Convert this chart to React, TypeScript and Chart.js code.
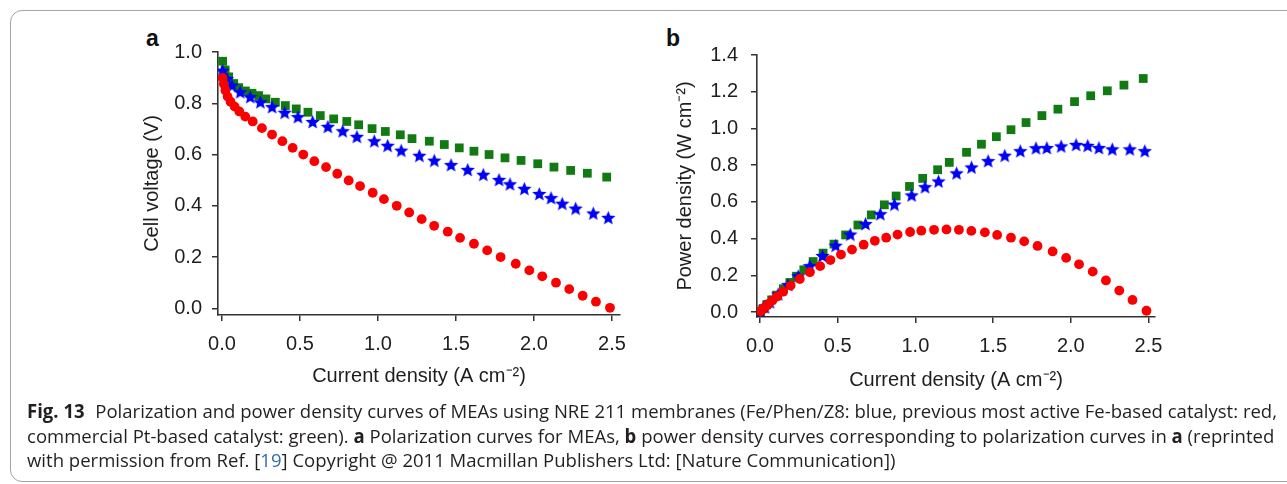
import React, { useEffect, useLayoutEffect, useRef } from "react";
import { Chart, registerables } from "chart.js";

Chart.register(...registerables);

// ---------- data ----------
const xTickValues = [0, 0.5, 1.0, 1.5, 2.0, 2.5];
const yTickValuesA = [0, 0.2, 0.4, 0.6, 0.8, 1.0];
const yTickValuesB = [0, 0.2, 0.4, 0.6, 0.8, 1.0, 1.2, 1.4];

// previous most active Fe-based catalyst (red)
const redCurrent = [0.004, 0.012, 0.022, 0.036, 0.055, 0.081, 0.111, 0.149, 0.197, 0.256, 0.321, 0.387, 0.453, 0.521, 0.592, 0.667, 0.739, 0.812, 0.885, 0.966, 1.038, 1.12, 1.2, 1.28, 1.36, 1.447, 1.526, 1.615, 1.7, 1.786, 1.883, 1.97, 2.053, 2.141, 2.226, 2.312, 2.397, 2.487];
const redVoltage = [0.899, 0.875, 0.85, 0.826, 0.806, 0.787, 0.768, 0.748, 0.729, 0.703, 0.678, 0.652, 0.626, 0.6, 0.574, 0.551, 0.525, 0.499, 0.477, 0.451, 0.426, 0.4, 0.374, 0.348, 0.322, 0.299, 0.275, 0.252, 0.226, 0.2, 0.174, 0.148, 0.125, 0.1, 0.075, 0.049, 0.026, 0.002];
const redPower = [0.004, 0.01, 0.019, 0.03, 0.044, 0.064, 0.085, 0.111, 0.144, 0.18, 0.217, 0.25, 0.283, 0.313, 0.34, 0.367, 0.388, 0.405, 0.422, 0.436, 0.443, 0.448, 0.45, 0.448, 0.442, 0.434, 0.42, 0.405, 0.385, 0.36, 0.33, 0.295, 0.26, 0.22, 0.172, 0.117, 0.066, 0.007];

// Fe/Phen/Z8 (blue)
const blueCurrent = [0.004, 0.032, 0.064, 0.117, 0.181, 0.246, 0.321, 0.402, 0.487, 0.581, 0.679, 0.774, 0.865, 0.976, 1.062, 1.149, 1.265, 1.361, 1.468, 1.575, 1.675, 1.776, 1.846, 1.938, 2.034, 2.109, 2.181, 2.267, 2.38, 2.476];
const blueVoltage = [0.929, 0.897, 0.871, 0.845, 0.826, 0.806, 0.787, 0.765, 0.748, 0.729, 0.71, 0.693, 0.671, 0.654, 0.636, 0.617, 0.597, 0.578, 0.561, 0.542, 0.523, 0.503, 0.486, 0.468, 0.448, 0.432, 0.41, 0.391, 0.372, 0.355];
const bluePower = [0.004, 0.029, 0.056, 0.099, 0.15, 0.198, 0.253, 0.308, 0.364, 0.425, 0.482, 0.536, 0.588, 0.638, 0.683, 0.714, 0.758, 0.79, 0.825, 0.854, 0.879, 0.895, 0.896, 0.905, 0.913, 0.908, 0.896, 0.889, 0.889, 0.879];

// commercial Pt-based catalyst (green)
const greenCurrent = [0.004, 0.02, 0.043, 0.075, 0.107, 0.15, 0.192, 0.235, 0.282, 0.342, 0.406, 0.476, 0.551, 0.63, 0.716, 0.8, 0.876, 0.962, 1.047, 1.143, 1.218, 1.329, 1.425, 1.521, 1.615, 1.712, 1.814, 1.917, 2.024, 2.128, 2.235, 2.342, 2.466];
const greenVoltage = [0.964, 0.93, 0.903, 0.877, 0.861, 0.848, 0.839, 0.83, 0.817, 0.804, 0.791, 0.778, 0.765, 0.752, 0.739, 0.729, 0.716, 0.701, 0.69, 0.677, 0.662, 0.652, 0.639, 0.626, 0.613, 0.6, 0.587, 0.577, 0.564, 0.551, 0.538, 0.527, 0.512];
const greenPower = [0.004, 0.019, 0.039, 0.066, 0.092, 0.127, 0.161, 0.195, 0.23, 0.275, 0.321, 0.37, 0.42, 0.474, 0.529, 0.584, 0.632, 0.684, 0.728, 0.775, 0.815, 0.87, 0.914, 0.955, 0.993, 1.032, 1.07, 1.105, 1.146, 1.178, 1.205, 1.236, 1.272];

const xTitleText = "Current density (A cm\u207B\u00B2)";
const yTitleTextA = "Cell voltage (V)";
const yTitleTextB = "Power density (W cm\u207B\u00B2)";

// ---------- styling ----------
const AXIS_FONT = "'Liberation Sans', Arial, Helvetica, sans-serif";
const RED = "rgb(250, 0, 0)";
const BLUE = "rgb(0, 0, 245)";
const GREEN = "rgb(18, 122, 18)";
const AXIS = "#333333";
const TEXT = "#1e1e1e";

function makeStar(color: string, size: number) {
  const c = document.createElement("canvas");
  c.width = size;
  c.height = size;
  const ctx = c.getContext("2d")!;
  const cx = size / 2;
  const cy = size / 2 + size * 0.06;
  const R = size / 2;
  const r = R * 0.45;
  ctx.beginPath();
  for (let i = 0; i < 10; i++) {
    const rad = i % 2 === 0 ? R : r;
    const a = -Math.PI / 2 + (i * Math.PI) / 5;
    const px = cx + rad * Math.cos(a);
    const py = cy + rad * Math.sin(a);
    if (i === 0) ctx.moveTo(px, py);
    else ctx.lineTo(px, py);
  }
  ctx.closePath();
  ctx.fillStyle = color;
  ctx.fill();
  return c;
}

function pts(xs: number[], ys: number[]) {
  return xs.map((x, i) => ({ x, y: ys[i] }));
}

type PanelProps = {
  left: number;
  top: number;
  width: number;
  height: number;
  areaLeft: number;
  areaRight: number;
  areaTop: number;
  areaBottom: number;
  xMin: number;
  xMax: number;
  yMin: number;
  yMax: number;
  yTicks: number[];
  yTitle: string;
  yTitlePad: number;
  yTickPad: number;
  xTickPad: number;
  xTitlePad: number;
  series: { xs: number[]; ys: number[] }[];
};

function Panel(p: PanelProps) {
  const ref = useRef<HTMLCanvasElement>(null);
  useEffect(() => {
    const star = makeStar(BLUE, 15);
    const [red, blue, green] = p.series;
    const chart = new Chart(ref.current!, {
      type: "scatter",
      data: {
        datasets: [
          {
            data: pts(red.xs, red.ys),
            pointStyle: "circle",
            pointRadius: 4.9,
            backgroundColor: RED,
            borderWidth: 0,
          },
          {
            data: pts(blue.xs, blue.ys),
            pointStyle: star as any,
            pointRadius: 7,
            backgroundColor: BLUE,
            borderWidth: 0,
          },
          {
            data: pts(green.xs, green.ys),
            pointStyle: "rect",
            pointRadius: 6.2,
            backgroundColor: GREEN,
            borderWidth: 0,
          },
        ],
      },
      options: {
        responsive: false,
        animation: false,
        events: [],
        layout: {
          padding: {
            left: 0,
            top: p.areaTop,
            right: p.width - p.areaRight,
            bottom: 0,
          },
        },
        plugins: {
          legend: { display: false },
          tooltip: { enabled: false },
        },
        scales: {
          x: {
            type: "linear",
            min: p.xMin,
            max: p.xMax,
            afterBuildTicks: (s: any) => {
              s.ticks = xTickValues.map((v) => ({ value: v }));
            },
            afterFit: (s: any) => {
              s.height = p.height - p.areaBottom;
            },
            grid: {
              drawOnChartArea: false,
              drawTicks: true,
              tickLength: 6,
              color: AXIS,
              lineWidth: 1.5,
            },
            border: { display: true, color: AXIS, width: 1.6 },
            ticks: {
              color: TEXT,
              font: { family: AXIS_FONT, size: 20 },
              padding: p.xTickPad,
              maxRotation: 0,
              autoSkip: false,
              callback: (v: any) => Number(v).toFixed(1),
            },
            title: {
              display: true,
              text: xTitleText,
              color: TEXT,
              font: { family: AXIS_FONT, size: 20 },
              padding: { top: 0, bottom: p.xTitlePad },
            },
          },
          y: {
            type: "linear",
            min: p.yMin,
            max: p.yMax,
            afterBuildTicks: (s: any) => {
              s.ticks = p.yTicks.map((v) => ({ value: v }));
            },
            afterFit: (s: any) => {
              s.width = p.areaLeft;
            },
            grid: {
              drawOnChartArea: false,
              drawTicks: true,
              tickLength: 6,
              color: AXIS,
              lineWidth: 1.5,
            },
            border: { display: true, color: AXIS, width: 1.6 },
            ticks: {
              color: TEXT,
              font: { family: AXIS_FONT, size: 20 },
              padding: p.yTickPad,
              autoSkip: false,
              callback: (v: any) => Number(v).toFixed(1),
            },
            title: {
              display: true,
              text: p.yTitle,
              color: TEXT,
              font: { family: AXIS_FONT, size: 20 },
              padding: { top: p.yTitlePad, bottom: 0 },
            },
          },
        },
      } as any,
    });
    return () => chart.destroy();
  }, []);
  return (
    <canvas
      ref={ref}
      width={p.width}
      height={p.height}
      style={{
        position: "absolute",
        left: p.left,
        top: p.top,
        width: p.width,
        height: p.height,
      }}
    />
  );
}

export default function App() {
  const capRef = useRef<HTMLDivElement>(null);
  useLayoutEffect(() => {
    const el = capRef.current;
    if (!el) return;
    const first = el.querySelector(".line1") as HTMLElement;
    const w = first.getBoundingClientRect().width;
    const s = 1250 / w;
    el.style.transform = `scaleX(${s})`;
  }, []);

  const capLine: React.CSSProperties = {
    whiteSpace: "nowrap",
    height: 24.5,
    lineHeight: "24.5px",
  };

  const letterStyle: React.CSSProperties = {
    position: "absolute",
    top: 27,
    fontFamily: AXIS_FONT,
    fontWeight: "bold",
    fontSize: 23,
    lineHeight: "23px",
    color: "#111",
  };

  return (
    <div
      style={{
        position: "absolute",
        left: 0,
        top: 0,
        width: 1287,
        height: 484,
        overflow: "hidden",
        background: "#ffffff",
      }}
    >
      <div
        style={{
          position: "absolute",
          left: 10,
          top: 10,
          width: 1320,
          height: 472,
          border: "1.5px solid #a3a3a3",
          borderRadius: 12,
          boxSizing: "border-box",
        }}
      />
      <div style={{ ...letterStyle, left: 146 }}>a</div>
      <div style={{ ...letterStyle, left: 666 }}>b</div>
      <Panel
        left={100}
        top={30}
        width={540}
        height={370}
        areaLeft={118}
        areaRight={520}
        areaTop={20}
        areaBottom={285}
        xMin={-0.0256}
        xMax={2.5513}
        yMin={-0.026}
        yMax={1.0}
        yTicks={yTickValuesA}
        yTitle={yTitleTextA}
        yTitlePad={40}
        yTickPad={10}
        xTickPad={11}
        xTitlePad={12}
        series={[
          { xs: redCurrent, ys: redVoltage },
          { xs: blueCurrent, ys: blueVoltage },
          { xs: greenCurrent, ys: greenVoltage },
        ]}
      />
      <Panel
        left={640}
        top={30}
        width={540}
        height={370}
        areaLeft={117}
        areaRight={515}
        areaTop={22.3}
        areaBottom={287}
        xMin={-0.0193}
        xMax={2.5418}
        yMin={-0.027}
        yMax={1.4}
        yTicks={yTickValuesB}
        yTitle={yTitleTextB}
        yTitlePad={33}
        yTickPad={13}
        xTickPad={11.5}
        xTitlePad={7.5}
        series={[
          { xs: redCurrent, ys: redPower },
          { xs: blueCurrent, ys: bluePower },
          { xs: greenCurrent, ys: greenPower },
        ]}
      />
      <div
        ref={capRef}
        style={{
          position: "absolute",
          left: 27,
          top: 399,
          fontFamily: "'Open Sans', 'Noto Sans', sans-serif",
          fontSize: 19,
          color: "#231f20",
          transformOrigin: "0 0",
        }}
      >
        <div style={capLine}>
          <span className="line1" style={{ display: "inline-block" }}>
            <b style={{ marginRight: 11 }}>Fig. 13</b>Polarization and power density curves of MEAs using NRE 211 membranes (Fe/Phen/Z8: blue, previous most active Fe-based catalyst: red,
          </span>
        </div>
        <div style={capLine}>
          commercial Pt-based catalyst: green). <b>a</b> Polarization curves for MEAs, <b>b</b> power density curves corresponding to polarization curves in <b>a</b> (reprinted
        </div>
        <div style={capLine}>
          with permission from Ref. [<span style={{ color: "#2f6db5" }}>19</span>] Copyright @ 2011 Macmillan Publishers Ltd: [Nature Communication])
        </div>
      </div>
    </div>
  );
}
